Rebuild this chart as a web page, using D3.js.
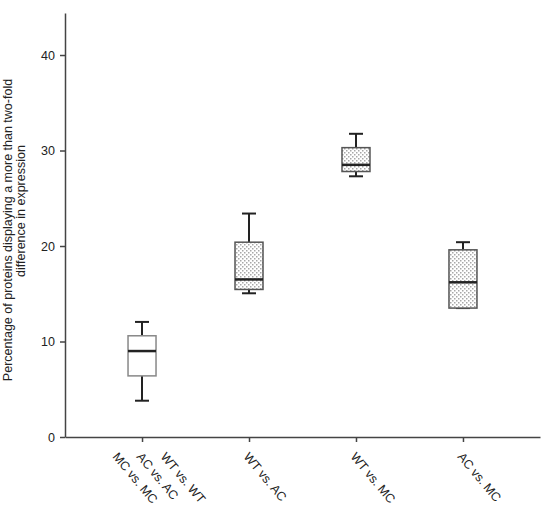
<!DOCTYPE html>
<html>
<head>
<meta charset="utf-8">
<script src="https://cdn.jsdelivr.net/npm/d3@7"></script>
<style>
  body { margin: 0; background: #fff; }
  svg text { font-family: "Liberation Sans", Arial, sans-serif; fill: #222; }
</style>
</head>
<body>
<div id="chart"></div>
<script>
// box plot values
const categories = ["same", "WT vs. AC", "WT vs. MC", "AC vs. MC"]
const mins    = [3.8, 15.05, 27.3, 13.5]
const q1s     = [6.4, 15.45, 27.8, 13.5]
const medians = [9.0, 16.5, 28.5, 16.2]
const q3s     = [10.6, 20.4, 30.3, 19.6]
const maxs    = [12.05, 23.4, 31.75, 20.4]
const dotted  = [false, true, true, true]
// tick labels, first tick has three stacked names
const xLabels = [["MC vs. MC", "AC vs. AC", "WT vs. WT"], ["WT vs. AC"], ["WT vs. MC"], ["AC vs. MC"]]
const yTicks = [0, 10, 20, 30, 40]
const yTitle = ["Percentage of proteins displaying a more than two-fold", "difference in expression"]

const width = 552, height = 526
const fontSize = "12.5px"

const svg = d3.select("#chart").append("svg")
    .attr("width", width)
    .attr("height", height)

// stipple pattern for the filled boxes
const defs = svg.append("defs")
const pat = defs.append("pattern")
    .attr("id", "stipple")
    .attr("patternUnits", "userSpaceOnUse")
    .attr("width", 4)
    .attr("height", 4)
pat.append("rect").attr("width", 4).attr("height", 4).attr("fill", "#fff")
pat.append("rect").attr("x", 0).attr("y", 0).attr("width", 1.5).attr("height", 1.5).attr("fill", "#a8a8a8")
pat.append("rect").attr("x", 2).attr("y", 2).attr("width", 1.5).attr("height", 1.5).attr("fill", "#a8a8a8")

const y = d3.scaleLinear().domain([0, 44.4]).range([437, 13])
const x = d3.scalePoint().domain(categories).range([65, 540]).padding(0.72)

// y axis
const yAxis = svg.append("g")
    .attr("transform", "translate(65,0)")
    .call(d3.axisLeft(y).tickValues(yTicks).tickSize(5).tickSizeOuter(0).tickPadding(5))
yAxis.selectAll("path, line").attr("stroke", "#444").attr("stroke-width", 1.5)
yAxis.selectAll("text").style("font-size", fontSize).attr("fill", "#222")

// x axis
const xAxis = svg.append("g")
    .attr("transform", "translate(0,437)")
    .call(d3.axisBottom(x).tickSize(5).tickSizeOuter(0).tickFormat(""))
xAxis.selectAll("path, line").attr("stroke", "#444").attr("stroke-width", 1.5)

// rotated x labels
const lineShift = [-30, -6, 18]
categories.forEach((c, i) => {
    xLabels[i].forEach((t, j) => {
        let dx = xLabels[i].length > 1 ? lineShift[j] : -6
        let px = x(c) + dx, py = 457
        svg.append("text")
           .attr("transform", "translate(" + px + "," + py + ") rotate(50)")
           .style("font-size", fontSize)
           .text(t)
    })
})

// y title, two rotated lines
svg.append("text")
   .attr("transform", "translate(12,230) rotate(-90)")
   .attr("text-anchor", "middle")
   .style("font-size", fontSize)
   .text(yTitle[0])
svg.append("text")
   .attr("transform", "translate(25,211) rotate(-90)")
   .attr("text-anchor", "middle")
   .style("font-size", fontSize)
   .text(yTitle[1])

// boxes
const boxW = 28, capW = 14
const boxes = svg.append("g")
categories.forEach((c, i) => {
    let cx = x(c)
    let g = boxes.append("g")
    // whiskers
    g.append("line").attr("x1", cx).attr("x2", cx).attr("y1", y(maxs[i])).attr("y2", y(q3s[i]))
     .attr("stroke", "#222").attr("stroke-width", 2)
    g.append("line").attr("x1", cx).attr("x2", cx).attr("y1", y(q1s[i])).attr("y2", y(mins[i]))
     .attr("stroke", "#222").attr("stroke-width", 2)
    g.append("line").attr("x1", cx - capW / 2).attr("x2", cx + capW / 2).attr("y1", y(maxs[i])).attr("y2", y(maxs[i]))
     .attr("stroke", "#222").attr("stroke-width", 2)
    g.append("line").attr("x1", cx - capW / 2).attr("x2", cx + capW / 2).attr("y1", y(mins[i])).attr("y2", y(mins[i]))
     .attr("stroke", "#222").attr("stroke-width", 2)
    // box
    g.append("rect")
     .attr("x", cx - boxW / 2)
     .attr("y", y(q3s[i]))
     .attr("width", boxW)
     .attr("height", y(q1s[i]) - y(q3s[i]))
     .attr("fill", dotted[i] ? "url(#stipple)" : "#fff")
     .attr("stroke", dotted[i] ? "#555" : "#888")
     .attr("stroke-width", 1.5)
    // median
    g.append("line").attr("x1", cx - boxW / 2).attr("x2", cx + boxW / 2)
     .attr("y1", y(medians[i])).attr("y2", y(medians[i]))
     .attr("stroke", "#222").attr("stroke-width", 2.5)
})
</script>
</body>
</html>
